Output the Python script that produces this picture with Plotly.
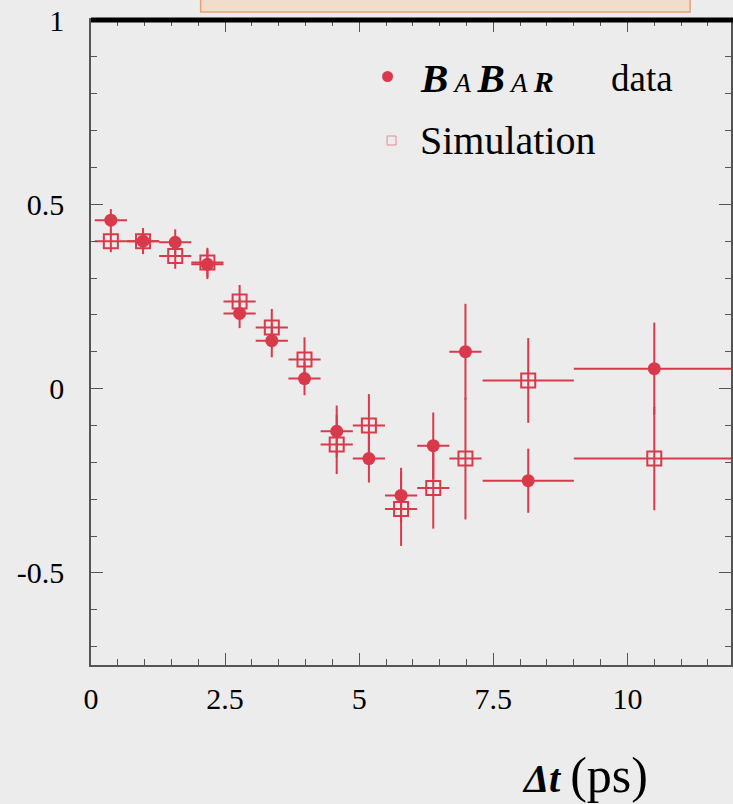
import plotly.graph_objects as go

# Δt bin centres and half-widths (ps)
dt_center = [0.37, 0.97, 1.57, 2.17, 2.77, 3.37, 3.98, 4.58, 5.18, 5.78, 6.38, 6.98, 8.15, 10.5]
dt_halfwidth = [0.3, 0.3, 0.3, 0.3, 0.3, 0.3, 0.3, 0.3, 0.3, 0.3, 0.3, 0.3, 0.85, 1.5]

# BABAR data asymmetry and errors
data_val = [0.457, 0.40, 0.397, 0.337, 0.204, 0.130, 0.027, -0.116, -0.19, -0.29, -0.155, 0.10, -0.25, 0.054]
data_err = [0.03, 0.035, 0.035, 0.04, 0.04, 0.045, 0.045, 0.07, 0.065, 0.075, 0.09, 0.13, 0.087, 0.125]

# Simulation asymmetry and errors
sim_val = [0.40, 0.40, 0.36, 0.342, 0.236, 0.166, 0.079, -0.152, -0.10, -0.327, -0.27, -0.19, 0.022, -0.19]
sim_err = [0.03, 0.035, 0.035, 0.04, 0.045, 0.05, 0.06, 0.08, 0.085, 0.10, 0.11, 0.165, 0.115, 0.14]

x_tickvals = [0, 2.5, 5, 7.5, 10]
x_ticktext = ["0", "2.5", "5", "7.5", "10"]
y_tickvals = [-0.5, 0, 0.5, 1]
y_ticktext = ["-0.5", "0", "0.5", "1"]

RED = "#d93a4b"
BG = "#ececec"
SERIF = "Liberation Serif, Times New Roman, serif"

fig = go.Figure()

fig.add_trace(go.Scatter(
    x=dt_center, y=sim_val, mode="markers", name="Simulation",
    marker=dict(symbol="square-open", size=14, color=RED, line=dict(width=2, color=RED)),
    error_x=dict(type="data", array=dt_halfwidth, color=RED, thickness=2, width=0),
    error_y=dict(type="data", array=sim_err, color=RED, thickness=2, width=0),
    showlegend=False,
))
fig.add_trace(go.Scatter(
    x=dt_center, y=data_val, mode="markers", name="BABAR data",
    marker=dict(symbol="circle", size=13, color=RED),
    error_x=dict(type="data", array=dt_halfwidth, color=RED, thickness=2, width=0),
    error_y=dict(type="data", array=data_err, color=RED, thickness=2, width=0),
    showlegend=False,
))

L, T, B = 91, 20, 139
W, H = 733, 804
pw = W - L
ph = H - T - B


def px_x(p):
    return (p - L) / pw


def px_y(p):
    return (H - B - p) / ph


shapes = [
    # heavy top frame line
    dict(type="line", xref="paper", yref="paper", x0=0, x1=1.02, y0=1, y1=1,
         line=dict(color="black", width=5)),
    # header strip at the top edge
    dict(type="rect", xref="paper", yref="paper",
         x0=px_x(201), x1=px_x(692), y0=px_y(12), y1=px_y(-5),
         fillcolor="#f2dccb", line=dict(color="#e8a27a", width=1.5), layer="below"),
    # legend symbols
    dict(type="circle", xref="paper", yref="paper",
         x0=px_x(383), x1=px_x(394), y0=px_y(82), y1=px_y(71),
         fillcolor=RED, line=dict(color=RED, width=0)),
    dict(type="rect", xref="paper", yref="paper",
         x0=px_x(388), x1=px_x(397), y0=px_y(145), y1=px_y(136),
         fillcolor="rgba(0,0,0,0)", line=dict(color="#e58a96", width=1)),
]

babar = ("<b><i><span style='font-size:41px'>B</span>"
         "<span style='font-size:27px;font-weight:normal'> A </span>"
         "<span style='font-size:41px'>B</span>"
         "<span style='font-size:27px;font-weight:normal'> A </span>"
         "<span style='font-size:30px'>R</span></i></b>")

annotations = [
    dict(xref="paper", yref="paper", x=px_x(419), y=px_y(78), xanchor="left", yanchor="middle",
         text=babar, showarrow=False, font=dict(family=SERIF, size=34, color="black")),
    dict(xref="paper", yref="paper", x=px_x(611), y=px_y(78), xanchor="left", yanchor="middle",
         text="data", showarrow=False, font=dict(family=SERIF, size=37, color="black")),
    dict(xref="paper", yref="paper", x=px_x(419), y=px_y(140), xanchor="left", yanchor="middle",
         text="Simulation", showarrow=False, font=dict(family=SERIF, size=40, color="black")),
    dict(xref="paper", yref="paper", x=px_x(521), y=px_y(775), xanchor="left", yanchor="middle",
         text="<b><i>Δt</i></b> <span style='font-size:50px'>(ps)</span>", showarrow=False,
         font=dict(family=SERIF, size=40, color="black")),
]

axis_common = dict(
    showgrid=False, zeroline=False, showline=True, linecolor="#555555", linewidth=1.5,
    ticks="inside", ticklen=12, tickwidth=1.2, tickcolor="#555555", mirror="allticks",
    tickfont=dict(family=SERIF, size=30, color="black"),
)

fig.update_xaxes(
    range=[0, 11.93], tickmode="array", tickvals=x_tickvals, ticktext=x_ticktext,
    minor=dict(dtick=0.5, ticks="inside", ticklen=6, tickcolor="#555555", tickwidth=1),
    ticklabelstandoff=6,
    **axis_common,
)
fig.update_yaxes(
    range=[-0.75, 1], tickmode="array", tickvals=y_tickvals, ticktext=y_ticktext,
    minor=dict(dtick=0.1, tick0=0, ticks="inside", ticklen=6, tickcolor="#555555", tickwidth=1),
    ticklabelstandoff=19,
    **axis_common,
)

fig.update_layout(
    width=W, height=H,
    margin=dict(l=L, r=0, t=T, b=B, pad=0),
    paper_bgcolor=BG, plot_bgcolor=BG,
    shapes=shapes, annotations=annotations,
    showlegend=False,
)

fig.write_html("out.html")
